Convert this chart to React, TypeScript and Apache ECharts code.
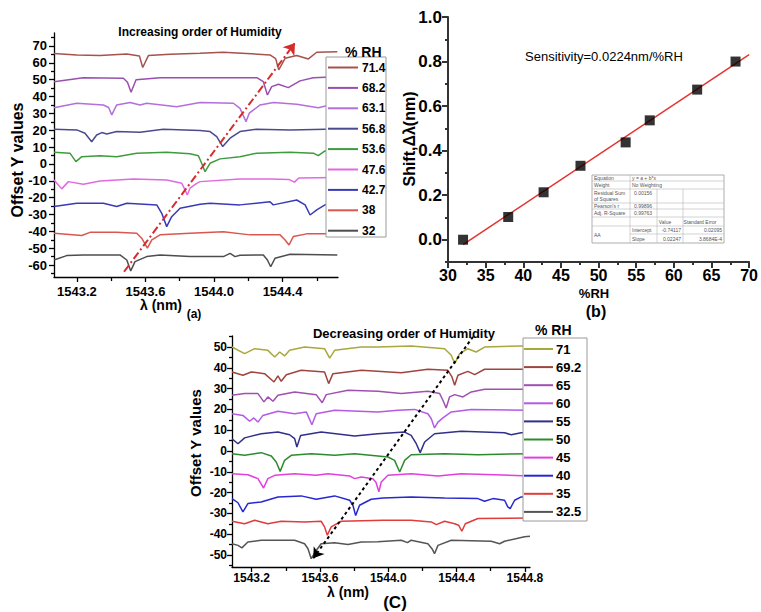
import React, { useEffect, useRef } from "react";
import * as echarts from "echarts";

const FAMILY = '"Liberation Sans", Arial, Helvetica, sans-serif';

// ---------- Panel (a): increasing order of humidity ----------
const rhIncreasing = ["71.4", "68.2", "63.1", "56.8", "53.6", "47.6", "42.7", "38", "32"];
const colorsIncreasing = ["#A5534E", "#9850B0", "#B36FDB", "#4A4A8E", "#3E9B3E", "#E06BE0", "#3A3AB8", "#D9574F", "#4D4D4D"];

const a714 = [[1543.066,65.6],[1543.199,64.7],[1543.335,64.3],[1543.491,65.3],[1543.565,64.0],[1543.584,57.2],[1543.617,64.3],[1543.743,65.1],[1543.919,65.7],[1544.053,66.3],[1544.327,64.7],[1544.360,62.5],[1544.378,55.8],[1544.415,62.7],[1544.483,64.3],[1544.551,62.3],[1544.600,66.3],[1544.720,66.6]];
const a682 = [[1543.066,48.8],[1543.237,51.2],[1543.471,50.9],[1543.495,48.5],[1543.516,42.5],[1543.545,49.9],[1543.685,51.2],[1543.919,51.2],[1544.250,51.2],[1544.288,48.8],[1544.312,40.9],[1544.337,45.9],[1544.376,47.3],[1544.434,45.3],[1544.502,49.3],[1544.580,51.2],[1544.720,51.8]];
const a631 = [[1543.066,33.4],[1543.199,36.0],[1543.354,35.0],[1543.385,33.5],[1543.403,29.1],[1543.432,35.0],[1543.510,36.4],[1543.568,35.0],[1543.607,36.0],[1543.782,34.0],[1543.919,36.4],[1544.113,36.0],[1544.152,33.0],[1544.187,25.1],[1544.206,30.1],[1544.269,35.0],[1544.347,36.4],[1544.483,35.4],[1544.609,33.4],[1544.720,36.0]];
const a568 = [[1543.066,20.6],[1543.199,20.2],[1543.247,18.2],[1543.286,13.2],[1543.315,17.2],[1543.345,18.6],[1543.374,17.8],[1543.432,19.2],[1543.568,18.8],[1543.704,20.6],[1543.919,19.8],[1543.977,19.2],[1544.016,16.2],[1544.051,10.3],[1544.094,15.3],[1544.152,19.2],[1544.250,20.6],[1544.444,20.2],[1544.720,20.8]];
const a536 = [[1543.066,6.9],[1543.159,6.4],[1543.194,1.4],[1543.228,4.3],[1543.335,4.9],[1543.432,4.3],[1543.549,6.4],[1543.724,6.9],[1543.860,6.0],[1543.909,4.9],[1543.928,0.4],[1543.948,-4.6],[1543.977,0.4],[1544.035,3.0],[1544.152,4.3],[1544.250,6.4],[1544.444,6.9],[1544.580,6.4],[1544.609,4.9],[1544.648,7.7],[1544.720,7.7]];
const a476 = [[1543.066,-9.5],[1543.111,-14.8],[1543.150,-10.5],[1543.237,-12.0],[1543.335,-10.1],[1543.529,-8.9],[1543.724,-9.5],[1543.812,-11.5],[1543.831,-15.4],[1543.844,-18.4],[1543.860,-14.4],[1543.899,-11.5],[1543.919,-10.5],[1544.152,-8.9],[1544.327,-8.9],[1544.440,-9.3],[1544.470,-10.8],[1544.495,-8.3],[1544.720,-8.1]];
const a427 = [[1543.066,-25.3],[1543.199,-23.3],[1543.354,-23.3],[1543.432,-25.3],[1543.491,-23.3],[1543.666,-24.3],[1543.695,-29.3],[1543.724,-37.2],[1543.753,-31.3],[1543.802,-26.3],[1543.919,-23.9],[1543.977,-23.3],[1544.152,-24.3],[1544.327,-22.4],[1544.346,-24.3],[1544.483,-21.4],[1544.532,-24.3],[1544.561,-30.3],[1544.600,-27.3],[1544.648,-24.3],[1544.720,-22.4]];
const a38 = [[1543.066,-41.1],[1543.228,-42.5],[1543.276,-40.6],[1543.432,-40.6],[1543.549,-41.1],[1543.578,-44.1],[1543.611,-50.0],[1543.637,-45.1],[1543.685,-42.1],[1543.860,-41.1],[1544.055,-40.2],[1544.211,-42.1],[1544.386,-42.1],[1544.415,-45.1],[1544.438,-48.1],[1544.463,-43.1],[1544.541,-41.5],[1544.720,-41.5]];
const a32 = [[1543.066,-57.0],[1543.140,-54.4],[1543.237,-54.0],[1543.451,-54.0],[1543.491,-57.0],[1543.514,-63.5],[1543.539,-58.0],[1543.607,-55.0],[1543.685,-54.0],[1543.860,-55.0],[1544.055,-55.0],[1544.094,-53.1],[1544.123,-55.0],[1544.152,-54.2],[1544.288,-54.0],[1544.312,-57.0],[1544.331,-61.0],[1544.356,-56.0],[1544.444,-53.6],[1544.720,-54.0]];
const tracesIncreasing = [a714, a682, a631, a568, a536, a476, a427, a38, a32];
const arrowIncreasing = [[1543.475, -64.0], [1544.473, 71.8]];

const aXRange = [1543.066, 1544.724];
const aYRange = [-67.1, 77.7];
const aXTicks = [1543.2, 1543.6, 1544.0, 1544.4];
const aXMinor = [1543.4, 1543.8, 1544.2, 1544.6];
const aYTicks = [-60, -50, -40, -30, -20, -10, 0, 10, 20, 30, 40, 50, 60, 70];
const aYMinor = [-65, -55, -45, -35, -25, -15, -5, 5, 15, 25, 35, 45, 55, 65, 75];

// ---------- Panel (b): shift vs %RH ----------
const rhPoints = [32, 38, 42.7, 47.6, 53.6, 56.8, 63.1, 68.2];
const shiftPoints = [0.0, 0.102, 0.213, 0.332, 0.437, 0.536, 0.674, 0.8];
const fitLineEnds = [[32, -0.022], [70, 0.831]];
const bXTicks = [30, 35, 40, 45, 50, 55, 60, 65, 70];
const bXMinor = [32.5, 37.5, 42.5, 47.5, 52.5, 57.5, 62.5, 67.5];
const bYTicks = [0, 0.2, 0.4, 0.6, 0.8, 1.0];
const bYMinor = [-0.1, 0.1, 0.3, 0.5, 0.7, 0.9];
const tableLeftCells = ["Equation", "Weight", "Residual Sum|of Squares", "Pearson's r", "Adj. R-Square", "", "AA"];
const tableStats = ["y = a + b*x", "No Weighting", "0.00156", "0.99896", "0.99763"];
const tableHeader = ["Value", "Standard Error"];
const tableParams = ["Intercept", "Slope"];
const tableParamValues = ["-0.74117", "0.02247"];
const tableParamErrors = ["0.02095", "3.8684E-4"];

// ---------- Panel (c): decreasing order of humidity ----------
const rhDecreasing = ["71", "69.2", "65", "60", "55", "50", "45", "40", "35", "32.5"];
const colorsDecreasing = ["#A9A83C", "#A0443E", "#A050B0", "#B45AE6", "#30308A", "#2E8A2E", "#E040E0", "#2828D0", "#E03C3C", "#555555"];

const c71 = [[1543.085,50.0],[1543.159,46.8],[1543.218,49.2],[1543.295,48.4],[1543.335,45.2],[1543.364,47.6],[1543.393,45.7],[1543.422,48.4],[1543.510,50.0],[1543.627,49.2],[1543.657,44.7],[1543.686,48.4],[1543.842,50.0],[1543.939,50.0],[1544.134,50.5],[1544.330,49.2],[1544.369,46.0],[1544.389,42.0],[1544.418,46.8],[1544.466,49.2],[1544.515,47.6],[1544.564,50.0],[1544.778,50.5],[1544.830,50.5]];
const c692 = [[1543.085,38.0],[1543.149,36.4],[1543.198,38.0],[1543.276,37.2],[1543.331,33.2],[1543.354,36.1],[1543.373,33.5],[1543.403,36.7],[1543.490,38.8],[1543.627,38.0],[1543.651,32.4],[1543.676,37.2],[1543.842,38.8],[1544.076,37.6],[1544.232,39.3],[1544.349,38.8],[1544.373,35.6],[1544.389,31.6],[1544.408,36.4],[1544.466,38.3],[1544.506,36.7],[1544.564,39.3],[1544.830,39.3]];
const c65 = [[1543.085,26.8],[1543.159,27.6],[1543.237,27.6],[1543.272,23.6],[1543.295,26.0],[1543.325,23.9],[1543.354,26.8],[1543.452,28.4],[1543.578,27.1],[1543.613,23.2],[1543.637,27.1],[1543.764,29.2],[1543.939,28.7],[1544.076,27.6],[1544.232,28.7],[1544.301,27.6],[1544.320,24.4],[1544.339,20.7],[1544.359,26.0],[1544.389,27.1],[1544.437,26.0],[1544.486,28.4],[1544.564,29.7],[1544.830,29.7]];
const c60 = [[1543.085,17.9],[1543.149,17.1],[1543.188,14.3],[1543.213,15.9],[1543.237,13.9],[1543.266,17.1],[1543.354,19.1],[1543.452,17.9],[1543.520,18.8],[1543.553,12.6],[1543.578,17.9],[1543.686,19.6],[1543.939,18.8],[1544.057,19.6],[1544.154,20.0],[1544.232,17.9],[1544.252,15.5],[1544.271,11.1],[1544.291,13.9],[1544.320,15.9],[1544.369,18.8],[1544.486,20.0],[1544.830,19.6]];
const c55 = [[1543.085,5.9],[1543.120,3.5],[1543.159,6.3],[1543.256,8.3],[1543.354,9.1],[1543.422,7.8],[1543.452,5.9],[1543.465,1.9],[1543.487,7.5],[1543.607,9.1],[1543.803,7.2],[1543.939,8.3],[1544.096,9.1],[1544.134,7.5],[1544.164,3.5],[1544.187,-0.8],[1544.213,4.3],[1544.271,8.3],[1544.427,9.5],[1544.681,8.8],[1544.720,7.8],[1544.778,8.8],[1544.830,8.8]];
const c50 = [[1543.085,-1.3],[1543.159,-2.1],[1543.256,-0.8],[1543.315,-2.4],[1543.344,-5.3],[1543.367,-9.8],[1543.393,-4.5],[1543.432,-2.1],[1543.549,-1.3],[1543.686,-2.1],[1543.803,-1.3],[1543.939,-2.4],[1543.998,-2.9],[1544.037,-4.5],[1544.067,-10.1],[1544.096,-4.5],[1544.134,-1.8],[1544.330,-1.3],[1544.525,-1.8],[1544.830,-1.3]];
const c45 = [[1543.085,-10.9],[1543.178,-11.4],[1543.237,-13.3],[1543.270,-17.8],[1543.295,-13.3],[1543.335,-11.7],[1543.452,-10.9],[1543.578,-11.7],[1543.647,-10.9],[1543.774,-12.0],[1543.803,-13.3],[1543.842,-12.5],[1543.910,-13.3],[1543.928,-15.0],[1543.945,-19.6],[1543.959,-14.9],[1543.998,-11.7],[1544.134,-10.9],[1544.291,-12.0],[1544.427,-10.9],[1544.623,-11.4],[1544.830,-12.0]];
const c40 = [[1543.085,-22.9],[1543.120,-24.9],[1543.149,-29.3],[1543.178,-25.3],[1543.256,-24.5],[1543.354,-22.1],[1543.490,-21.6],[1543.578,-23.2],[1543.686,-21.6],[1543.774,-23.7],[1543.793,-26.1],[1543.809,-31.0],[1543.832,-26.1],[1543.900,-23.2],[1543.969,-22.6],[1544.134,-22.1],[1544.330,-22.6],[1544.525,-22.9],[1544.564,-24.2],[1544.613,-22.9],[1544.681,-23.7],[1544.700,-26.9],[1544.714,-27.7],[1544.740,-23.7],[1544.778,-22.1],[1544.830,-22.1]];
const c35 = [[1543.085,-33.8],[1543.159,-35.0],[1543.218,-33.3],[1543.295,-35.0],[1543.373,-33.8],[1543.510,-34.1],[1543.607,-33.8],[1543.627,-36.5],[1543.643,-40.5],[1543.666,-36.5],[1543.725,-33.8],[1543.969,-33.3],[1544.134,-33.3],[1544.252,-34.1],[1544.281,-35.4],[1544.330,-33.8],[1544.389,-35.0],[1544.412,-35.7],[1544.431,-38.6],[1544.451,-35.0],[1544.525,-32.5],[1544.830,-32.2]];
const c325 = [[1543.085,-44.6],[1543.120,-45.4],[1543.143,-46.6],[1543.178,-43.8],[1543.256,-42.9],[1543.452,-42.9],[1543.510,-44.6],[1543.530,-47.0],[1543.549,-51.8],[1543.572,-48.6],[1543.607,-44.6],[1543.686,-44.1],[1543.764,-45.0],[1543.842,-43.8],[1543.939,-43.6],[1544.076,-42.9],[1544.113,-44.1],[1544.134,-42.9],[1544.232,-44.6],[1544.256,-47.0],[1544.271,-49.4],[1544.291,-45.4],[1544.369,-42.9],[1544.603,-43.4],[1544.652,-44.6],[1544.681,-43.4],[1544.798,-41.3],[1544.830,-41.0]];
const tracesDecreasing = [c71, c692, c65, c60, c55, c50, c45, c40, c35, c325];
const arrowDecreasing = [[1543.561, -51.6], [1544.497, 55.0]];

const cXRange = [1543.085, 1544.83];
const cYRange = [-55.8, 55.3];
const cXTicks = [1543.2, 1543.6, 1544.0, 1544.4, 1544.8];
const cXMinor = [1543.4, 1543.8, 1544.2, 1544.6];
const cYTicks = [-50, -40, -30, -20, -10, 0, 10, 20, 30, 40, 50];
const cYMinor = [-55, -45, -35, -25, -15, -5, 5, 15, 25, 35, 45, 55];

// ---------- helpers ----------
const fontStr = (size: number, weight = "bold") => `${weight} ${size}px ${FAMILY}`;

function mainAxis(gridIndex: number, range: number[], ticks: number[], fmt: (v: number) => string, fontSize: number, margin: number, color: string, width: number, tickLen: number, position: string) {
  return {
    type: "value", gridIndex, min: range[0], max: range[1], position,
    axisLine: { show: true, onZero: false, lineStyle: { color, width } },
    axisTick: { show: true, inside: false, length: tickLen, customValues: ticks, lineStyle: { color, width } },
    axisLabel: { show: true, customValues: ticks, formatter: fmt, color: "#000", fontFamily: FAMILY, fontWeight: "bold", fontSize, margin },
    splitLine: { show: false }, minorTick: { show: false }, minorSplitLine: { show: false },
  };
}
function minorAxis(gridIndex: number, range: number[], ticks: number[], color: string, width: number, tickLen: number, position: string) {
  return {
    type: "value", gridIndex, min: range[0], max: range[1], position,
    axisLine: { show: false, onZero: false },
    axisTick: { show: true, inside: false, length: tickLen, customValues: ticks, lineStyle: { color, width } },
    axisLabel: { show: false },
    splitLine: { show: false },
  };
}

function txt(text: string, x: number, y: number, font: string, align = "center", rotation = 0, fill = "#000") {
  return { type: "text", x, y, rotation, z: 100, style: { text, font, fill, align, verticalAlign: "middle" } };
}
function seg(x1: number, y1: number, x2: number, y2: number, stroke: string, lineWidth: number) {
  return { type: "line", z: 100, shape: { x1, y1, x2, y2 }, style: { stroke, lineWidth } };
}

function buildGraphics() {
  const g: any[] = [];
  // Panel (a) texts
  g.push(txt("Increasing order of Humidity", 200, 32, fontStr(12)));
  g.push(txt("Offset Y values", 17, 160, fontStr(16), "center", Math.PI / 2));
  g.push(txt("λ (nm)", 161, 305, fontStr(14)));
  g.push(txt("(a)", 194, 314, fontStr(12)));
  g.push(txt("% RH", 345, 52, fontStr(14), "left"));
  g.push({ type: "rect", z: 99, shape: { x: 326, y: 57, width: 60, height: 180 }, style: { fill: "#fff", stroke: "#9a9a9a", lineWidth: 1 } });
  rhIncreasing.forEach((name, i) => {
    const y = 67.5 + i * 20.4;
    g.push(seg(328, y, 358, y, colorsIncreasing[i], 2));
    g.push(txt(name, 362, y, fontStr(12), "left"));
  });
  // Panel (b) texts
  g.push(txt("Sensitivity=0.0224nm/%RH", 525, 56, fontStr(13, "normal"), "left"));
  g.push(txt("Shift,Δλ(nm)", 409, 139, fontStr(16), "center", Math.PI / 2));
  g.push(txt("%RH", 594, 293, fontStr(13)));
  g.push(txt("(b)", 596, 311, fontStr(16)));
  // fit table
  const cols = [592, 630, 657, 683, 724];
  const rows = [175, 181, 189, 203, 209, 217, 226, 234, 243];
  const lc = "#b5b5b5";
  g.push({ type: "rect", z: 99, shape: { x: cols[0], y: rows[0], width: cols[4] - cols[0], height: rows[8] - rows[0] }, style: { fill: "#fff", stroke: "#999", lineWidth: 0.8 } });
  for (let r = 1; r < 8; r++) {
    const x1 = r === 7 ? cols[1] : cols[0];
    g.push(seg(x1, rows[r], cols[4], rows[r], lc, 0.6));
  }
  g.push(seg(cols[1], rows[0], cols[1], rows[8], lc, 0.6));
  g.push(seg(cols[2], rows[2], cols[2], rows[8], lc, 0.6));
  g.push(seg(cols[3], rows[2], cols[3], rows[8], lc, 0.6));
  const tf = fontStr(5, "normal");
  const tc = "#555";
  tableLeftCells.forEach((label, i) => {
    if (!label) return;
    const parts = label.split("|");
    if (i === 6) { g.push(txt(parts[0], cols[0] + 2, (rows[6] + rows[8]) / 2, tf, "left", 0, tc)); return; }
    const cy = (rows[i] + rows[i + 1]) / 2;
    if (parts.length === 2) {
      g.push(txt(parts[0], cols[0] + 2, cy - 2.8, tf, "left", 0, tc));
      g.push(txt(parts[1], cols[0] + 2, cy + 2.8, tf, "left", 0, tc));
    } else g.push(txt(parts[0], cols[0] + 2, cy, tf, "left", 0, tc));
  });
  tableStats.forEach((s, i) => {
    const cy = i === 2 ? rows[2] + 4 : (rows[i] + rows[i + 1]) / 2;
    g.push(txt(s, i < 2 ? cols[1] + 2 : cols[1] + 4, cy, tf, "left", 0, tc));
  });
  g.push(txt(tableHeader[0], 665, (rows[5] + rows[6]) / 2, tf, "center", 0, tc));
  g.push(txt(tableHeader[1], 700, (rows[5] + rows[6]) / 2, tf, "center", 0, tc));
  tableParams.forEach((p, i) => {
    const cy = (rows[6 + i] + rows[7 + i]) / 2;
    g.push(txt(p, cols[1] + 2, cy, tf, "left", 0, tc));
    g.push(txt(tableParamValues[i], cols[3] - 2, cy, tf, "right", 0, tc));
    g.push(txt(tableParamErrors[i], cols[4] - 2, cy, tf, "right", 0, tc));
  });
  // Panel (c) texts
  g.push(txt("Decreasing order of Humidity", 404, 333, fontStr(13)));
  g.push(txt("Offset Y values", 195, 443, fontStr(15), "center", Math.PI / 2));
  g.push(txt("λ (nm)", 348, 592, fontStr(14)));
  g.push(txt("(C)", 395, 602, fontStr(17)));
  g.push(txt("% RH", 535, 330, fontStr(14), "left"));
  g.push({ type: "rect", z: 99, shape: { x: 523, y: 338, width: 64, height: 183 }, style: { fill: "#fff", stroke: "#9a9a9a", lineWidth: 1 } });
  rhDecreasing.forEach((name, i) => {
    const y = 349 + i * 18.1;
    g.push(seg(524, y, 553, y, colorsDecreasing[i], 2));
    g.push(txt(name, 556, y, fontStr(13), "left"));
  });
  return g;
}

function buildOption() {
  const fx = (v: number) => v.toFixed(1);
  const fi = (v: number) => String(v);
  const traceSeries = (data: number[][], name: string, color: string, axis: number) => ({
    type: "line", name, xAxisIndex: axis, yAxisIndex: axis, data,
    symbol: "none", showSymbol: false, silent: true, z: 2,
    lineStyle: { color, width: 1.5 }, itemStyle: { color },
  });
  return {
    animation: false,
    backgroundColor: "#fff",
    grid: [
      { left: 54, top: 33, width: 284, height: 244 },
      { left: 448, top: 17, width: 304, height: 245 },
      { left: 232, top: 336, width: 298, height: 231 },
    ],
    xAxis: [
      mainAxis(0, aXRange, aXTicks, fx, 13, 8, "#000", 1.3, 5, "bottom"),
      minorAxis(0, aXRange, aXMinor, "#000", 1.3, 4, "bottom"),
      mainAxis(1, [30, 70], bXTicks, fi, 16, 5, "#333", 2, 6, "bottom"),
      minorAxis(1, [30, 70], bXMinor, "#333", 2, 3, "bottom"),
      mainAxis(2, cXRange, cXTicks, fx, 12, 5, "#000", 1.3, 5, "bottom"),
      minorAxis(2, cXRange, cXMinor, "#000", 1.3, 4, "bottom"),
    ],
    yAxis: [
      mainAxis(0, aYRange, aYTicks, fi, 13, 7, "#000", 1.3, 5, "left"),
      minorAxis(0, aYRange, aYMinor, "#000", 1.3, 3, "left"),
      mainAxis(1, [-0.1, 1.0], bYTicks, fx, 17, 6, "#333", 2, 6, "left"),
      minorAxis(1, [-0.1, 1.0], bYMinor, "#333", 2, 3, "left"),
      mainAxis(2, cYRange, cYTicks, fi, 12, 5, "#000", 1.3, 5, "left"),
      minorAxis(2, cYRange, cYMinor, "#000", 1.3, 3, "left"),
    ],
    series: [
      ...tracesIncreasing.map((d, i) => traceSeries(d, rhIncreasing[i], colorsIncreasing[i], 0)),
      {
        type: "lines", coordinateSystem: "cartesian2d", xAxisIndex: 0, yAxisIndex: 0, silent: true, z: 5,
        symbol: ["none", "arrow"], symbolSize: 11,
        lineStyle: { color: "#D62C2C", width: 2, type: [8, 3, 2, 3], opacity: 1 },
        data: [{ coords: arrowIncreasing }],
      },
      {
        type: "line", name: "fit", xAxisIndex: 2, yAxisIndex: 2, data: fitLineEnds, symbol: "none", silent: true, z: 3,
        lineStyle: { color: "#E3342F", width: 1.5 },
      },
      {
        type: "scatter", name: "shift", xAxisIndex: 2, yAxisIndex: 2, silent: true, z: 4,
        data: rhPoints.map((x, i) => [x, shiftPoints[i]]),
        symbol: "rect", symbolSize: 10, itemStyle: { color: "#000" },
      },
      ...tracesDecreasing.map((d, i) => traceSeries(d, rhDecreasing[i], colorsDecreasing[i], 4)),
      {
        type: "lines", coordinateSystem: "cartesian2d", xAxisIndex: 4, yAxisIndex: 4, silent: true, z: 5,
        symbol: ["arrow", "none"], symbolSize: 10,
        lineStyle: { color: "#000", width: 2, type: [3, 3], opacity: 1 },
        data: [{ coords: arrowDecreasing }],
      },
    ],
    graphic: { elements: buildGraphics() },
  };
}

export default function App() {
  const ref = useRef<HTMLDivElement>(null);
  useEffect(() => {
    if (!ref.current) return;
    const chart = echarts.init(ref.current, undefined, { renderer: "svg" });
    chart.setOption(buildOption() as any);
    return () => chart.dispose();
  }, []);
  return <div ref={ref} style={{ position: "fixed", left: 0, top: 0, width: 761, height: 612, background: "#fff" }} />;
}
